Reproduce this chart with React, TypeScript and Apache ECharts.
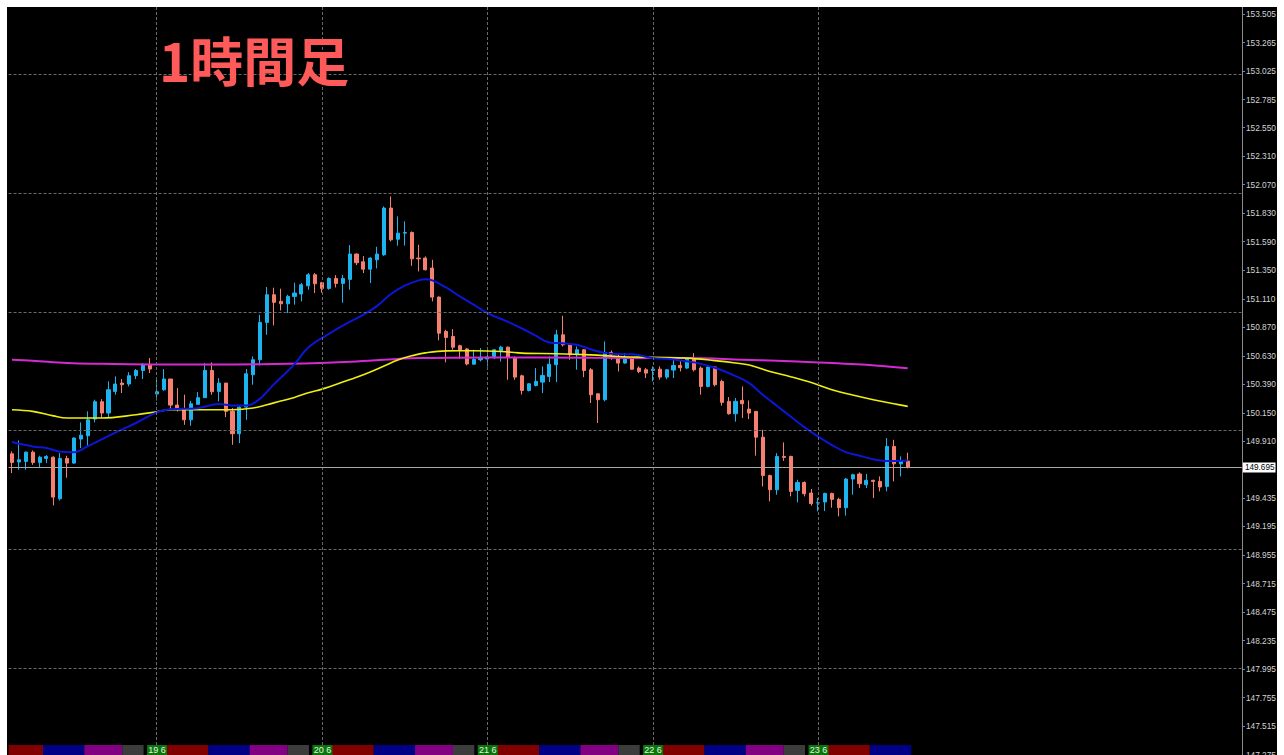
import React, { useEffect, useRef } from "react";
import * as echarts from "echarts";

// ---- data ----
const FIRST_DAY = 18;
const FIRST_HOUR = 3;
const N_CAT = 179;

const OPEN = [
  149.806, 149.737, 149.742, 149.820, 149.734, 149.767, 149.778, 149.428, 149.767, 149.728,
  149.930, 149.958, 150.098, 150.244, 150.149, 150.331, 150.401, 150.393, 150.463, 150.507,
  150.558, 150.309, 150.345, 150.435, 150.216, 150.182, 150.092, 150.222, 150.278, 150.507,
  150.331, 150.401, 150.163, 149.975, 150.199, 150.471, 150.597, 150.911, 151.144, 151.088,
  151.068, 151.130, 151.150, 151.219, 151.312, 151.245, 151.197, 151.281, 151.239, 151.273,
  151.486, 151.421, 151.359, 151.438, 151.480, 151.873, 151.611, 151.662, 151.668, 151.452,
  151.452, 151.368, 151.124, 150.835, 150.793, 150.715, 150.688, 150.560, 150.597, 150.603,
  150.625, 150.667, 150.703, 150.611, 150.462, 150.339, 150.381, 150.409, 150.457, 150.555,
  150.807, 150.723, 150.639, 150.681, 150.513, 150.311, 150.261, 150.659, 150.611, 150.569,
  150.603, 150.527, 150.513, 150.507, 150.518, 150.451, 150.510, 150.549, 150.527, 150.603,
  150.527, 150.373, 150.536, 150.415, 150.247, 150.143, 150.255, 150.182, 150.163, 149.946,
  149.624, 149.504, 149.784, 149.784, 149.498, 149.565, 149.476, 149.392, 149.401, 149.473,
  149.423, 149.353, 149.594, 149.636, 149.546, 149.583, 149.574, 149.532, 149.868, 149.722,
  149.745,
];
const CLOSE = [
  149.734, 149.756, 149.820, 149.734, 149.778, 149.784, 149.442, 149.767, 149.728, 149.938,
  149.963, 150.092, 150.244, 150.149, 150.345, 150.393, 150.387, 150.463, 150.507, 150.555,
  150.519, 150.328, 150.435, 150.216, 150.182, 150.092, 150.227, 150.278, 150.507, 150.328,
  150.401, 150.163, 149.975, 150.199, 150.479, 150.597, 150.911, 151.144, 151.080, 151.068,
  151.130, 151.158, 151.228, 151.312, 151.236, 151.197, 151.281, 151.239, 151.281, 151.486,
  151.413, 151.359, 151.452, 151.486, 151.873, 151.606, 151.662, 151.668, 151.446, 151.446,
  151.354, 151.124, 150.821, 150.785, 150.703, 150.680, 150.562, 150.600, 150.617, 150.620,
  150.681, 150.703, 150.620, 150.451, 150.339, 150.395, 150.415, 150.465, 150.560, 150.807,
  150.723, 150.639, 150.681, 150.507, 150.303, 150.261, 150.659, 150.639, 150.569, 150.603,
  150.518, 150.499, 150.485, 150.518, 150.451, 150.513, 150.549, 150.530, 150.603, 150.513,
  150.373, 150.536, 150.387, 150.239, 150.143, 150.247, 150.227, 150.149, 149.946, 149.624,
  149.504, 149.784, 149.776, 149.490, 149.565, 149.470, 149.387, 149.395, 149.473, 149.423,
  149.353, 149.594, 149.630, 149.555, 149.583, 149.574, 149.527, 149.868, 149.722, 149.747,
  149.695,
];
const LOW = [
  149.644, 149.672, 149.672, 149.714, 149.686, 149.728, 149.372, 149.414, 149.605, 149.722,
  149.854, 149.862, 150.070, 150.107, 150.115, 150.303, 150.317, 150.373, 150.435, 150.435,
  150.485, 150.255, 150.336, 150.177, 150.163, 150.050, 150.042, 150.222, 150.278, 150.303,
  150.247, 150.115, 149.882, 149.896, 150.092, 150.387, 150.550, 150.807, 150.886, 151.012,
  150.990, 151.060, 151.088, 151.186, 151.158, 151.161, 151.186, 151.205, 151.077, 151.186,
  151.393, 151.326, 151.242, 151.365, 151.471, 151.592, 151.556, 151.558, 151.387, 151.340,
  151.348, 151.088, 150.760, 150.575, 150.681, 150.605, 150.550, 150.555, 150.583, 150.541,
  150.603, 150.583, 150.429, 150.429, 150.305, 150.331, 150.373, 150.317, 150.409, 150.409,
  150.709, 150.597, 150.513, 150.451, 150.233, 150.065, 150.247, 150.597, 150.499, 150.563,
  150.513, 150.485, 150.443, 150.415, 150.429, 150.434, 150.443, 150.499, 150.518, 150.499,
  150.303, 150.365, 150.373, 150.211, 150.135, 150.076, 150.107, 150.098, 149.790, 149.532,
  149.406, 149.462, 149.746, 149.448, 149.398, 149.448, 149.370, 149.322, 149.325, 149.353,
  149.280, 149.286, 149.462, 149.518, 149.518, 149.434, 149.490, 149.490, 149.574, 149.616,
  149.683,
];
const HIGH = [
  149.826, 149.918, 149.826, 149.834, 149.790, 149.795, 149.784, 149.812, 149.790, 149.946,
  150.070, 150.163, 150.261, 150.266, 150.415, 150.457, 150.435, 150.493, 150.519, 150.569,
  150.611, 150.443, 150.519, 150.435, 150.359, 150.303, 150.252, 150.325, 150.569, 150.575,
  150.443, 150.401, 150.191, 150.205, 150.519, 150.625, 150.976, 151.209, 151.203, 151.195,
  151.144, 151.245, 151.242, 151.326, 151.326, 151.253, 151.290, 151.309, 151.309, 151.561,
  151.491, 151.469, 151.460, 151.547, 151.887, 151.971, 151.803, 151.761, 151.676, 151.564,
  151.466, 151.438, 151.130, 150.849, 150.855, 150.723, 150.695, 150.681, 150.695, 150.695,
  150.687, 150.715, 150.709, 150.625, 150.471, 150.401, 150.527, 150.541, 150.625, 150.849,
  150.967, 150.737, 150.709, 150.687, 150.527, 150.311, 150.751, 150.675, 150.639, 150.653,
  150.617, 150.541, 150.527, 150.541, 150.541, 150.518, 150.597, 150.585, 150.611, 150.653,
  150.541, 150.541, 150.541, 150.429, 150.283, 150.275, 150.373, 150.255, 150.163, 150.008,
  149.630, 149.812, 149.902, 149.790, 149.588, 149.574, 149.510, 149.434, 149.479, 149.479,
  149.437, 149.602, 149.638, 149.650, 149.636, 149.588, 149.616, 149.938, 149.924, 149.784,
  149.815,
];

// moving averages: [candle index, price]
const MA_BLUE = [
  [0, 149.905], [3, 149.868], [5, 149.855], [7, 149.824], [9, 149.820], [11, 149.870],
  [13, 149.928], [15, 149.985], [18, 150.065], [21, 150.155], [23, 150.180], [27, 150.190],
  [30, 150.225], [32, 150.212], [34, 150.212], [36, 150.270], [38, 150.390], [41, 150.560],
  [43, 150.700], [46, 150.815], [49, 150.915], [51, 150.975], [53, 151.050], [55, 151.150],
  [57, 151.220], [59, 151.265], [60, 151.275], [61, 151.265], [63, 151.205], [65, 151.130],
  [67, 151.060], [69, 150.990], [72, 150.915], [74, 150.860], [76, 150.800], [78, 150.742],
  [80, 150.735], [82, 150.723], [84, 150.685], [86, 150.655], [88, 150.645], [90, 150.643],
  [93, 150.612], [96, 150.600], [99, 150.575], [102, 150.530], [105, 150.460], [107, 150.400],
  [109, 150.300], [111, 150.210], [113, 150.120], [115, 150.030], [117, 149.950], [119, 149.880],
  [121, 149.820], [123, 149.790], [125, 149.760], [127, 149.745], [130, 149.750],
];
const MA_YELLOW = [
  [0, 150.177], [3, 150.163], [6, 150.125], [8, 150.107], [13, 150.107], [18, 150.135],
  [21, 150.160], [23, 150.177], [32, 150.177], [35, 150.191], [37, 150.219], [39, 150.250],
  [41, 150.280], [43, 150.320], [45, 150.350], [48, 150.410], [50, 150.450], [52, 150.495],
  [54, 150.545], [56, 150.595], [58, 150.630], [60, 150.655], [63, 150.672], [67, 150.673],
  [71, 150.667], [74, 150.653], [79, 150.648], [84, 150.638], [88, 150.625], [93, 150.617],
  [98, 150.611], [102, 150.590], [105, 150.570], [107, 150.553], [110, 150.499], [113, 150.455],
  [116, 150.405], [119, 150.345], [122, 150.300], [125, 150.261], [128, 150.227], [130, 150.205],
];
const MA_MAGENTA = [
  [0, 150.597], [3, 150.589], [8, 150.569], [13, 150.563], [22, 150.558], [32, 150.558],
  [40, 150.563], [50, 150.583], [59, 150.611], [69, 150.617], [84, 150.613], [98, 150.611],
  [106, 150.598], [114, 150.583], [119, 150.569], [124, 150.555], [130, 150.525],
];

const Y_LABELS = [
  153.505, 153.265, 153.025, 152.785, 152.55, 152.31, 152.07, 151.83, 151.59, 151.35,
  151.11, 150.87, 150.63, 150.39, 150.15, 149.91, 149.435, 149.195, 148.955, 148.715,
  148.475, 148.235, 147.995, 147.755, 147.515, 147.275,
];
const GRID_LEVELS = [148, 149, 150, 151, 152, 153];
const CURRENT_PRICE = 149.695;
const Y_MIN = 147.2729;
const Y_MAX = 153.5639;

const SEP_DAYS = [19, 20, 21, 22, 23];
const DAY_LABELS = ["19 6", "20 6", "21 6", "22 6", "23 6"];
const SESSION_DAYS = [18, 19, 20, 21, 22, 23];
const SESSIONS = [
  { from: 1.5, to: 8, color: "#800000" },
  { from: 8, to: 14, color: "#000085" },
  { from: 14, to: 19.5, color: "#820082" },
  { from: 19.5, to: 22.6, color: "#3c3c3c" },
];
const LABEL_BOX = { from: -1.4, to: 1.5, color: "#0a760a" };

// ---- derived ----
const dayStartIndex = (d: number) => (d - FIRST_DAY) * 24 - FIRST_HOUR;
const LAST_INDEX = OPEN.length - 1;

const categories: string[] = [];
for (let i = 0; i < N_CAT; i++) {
  const t = FIRST_HOUR + i;
  const d = FIRST_DAY + Math.floor(t / 24);
  const h = t % 24;
  categories.push(`${d} ${String(h).padStart(2, "0")}:00`);
}

const candleData = OPEN.map((o, i) => [o, CLOSE[i], LOW[i], HIGH[i]]);

type Seg = { s: number; e: number; color: string; label?: string };
const SEGMENTS: Seg[] = [];
const clipLo = -0.5;
const clipHi = LAST_INDEX + 0.5;
SESSION_DAYS.forEach((d) => {
  SESSIONS.forEach((ss) => {
    let s = dayStartIndex(d) + ss.from - 0.5;
    let e = dayStartIndex(d) + ss.to - 0.5;
    s = Math.max(s, clipLo);
    e = Math.min(e, clipHi);
    if (e > s) SEGMENTS.push({ s, e, color: ss.color });
  });
});
SEP_DAYS.forEach((d, k) => {
  let s = dayStartIndex(d) + LABEL_BOX.from;
  let e = dayStartIndex(d) + LABEL_BOX.to;
  s = Math.max(s, clipLo);
  e = Math.min(e, clipHi);
  if (e > s) SEGMENTS.push({ s, e, color: LABEL_BOX.color, label: DAY_LABELS[k] });
});

const BULL = "#1db3ee";
const BEAR = "#f5806f";
const GRID_COLOR = "#6a6a6a";

export default function App() {
  const ref = useRef<HTMLDivElement>(null);
  useEffect(() => {
    if (!ref.current) return;
    const chart = echarts.init(ref.current, null, { renderer: "svg" });
    const option: any = {
      animation: false,
      backgroundColor: "#000000",
      grid: {
        left: 1.55,
        right: 35.1,
        top: 0,
        bottom: 0,
        containLabel: false,
        outerBoundsMode: "none",
      },
      xAxis: {
        type: "category",
        data: categories,
        boundaryGap: true,
        axisLine: { show: false },
        axisTick: { show: false },
        axisLabel: { show: false },
        splitLine: { show: false },
      },
      yAxis: {
        type: "value",
        position: "right",
        min: Y_MIN,
        max: Y_MAX,
        scale: true,
        axisLine: { show: true, lineStyle: { color: "#8a8a8a", width: 1 } },
        axisTick: {
          show: true,
          length: 3,
          customValues: Y_LABELS,
          lineStyle: { color: "#8a8a8a" },
        },
        axisLabel: {
          show: true,
          customValues: Y_LABELS,
          margin: 4,
          color: "#d4d4d4",
          fontSize: 8.3,
          fontFamily: "Liberation Sans",
          formatter: (v: number) => v.toFixed(3),
        },
        splitLine: { show: false },
      },
      graphic: [
        {
          type: "text",
          left: 152,
          top: 25,
          z: 100,
          style: {
            text: "1時間足",
            fill: "#ff5a5a",
            font: "bold 53px 'Noto Sans CJK JP'",
          },
        },
      ],
      series: [
        {
          type: "line",
          name: "grid",
          data: [],
          z: 1,
          silent: true,
          markLine: {
            silent: true,
            symbol: "none",
            animation: false,
            label: { show: false },
            lineStyle: { color: GRID_COLOR, type: [3, 2], width: 1 },
            emphasis: { disabled: true },
            data: [
              ...GRID_LEVELS.map((v) => ({ yAxis: v })),
              ...SEP_DAYS.map((d) => ({ xAxis: dayStartIndex(d) })),
            ],
          },
        },
        {
          type: "candlestick",
          name: "USDJPY H1",
          data: candleData,
          z: 2,
          barWidth: 3.6,
          itemStyle: {
            color: BULL,
            color0: BEAR,
            borderColor: BULL,
            borderColor0: BEAR,
            borderWidth: 1,
          },
        },
        {
          type: "line",
          name: "MA200",
          data: MA_MAGENTA,
          z: 3,
          smooth: 0.4,
          symbol: "none",
          lineStyle: { color: "#d42ad4", width: 2 },
        },
        {
          type: "line",
          name: "MA75",
          data: MA_YELLOW,
          z: 3,
          smooth: 0.4,
          symbol: "none",
          lineStyle: { color: "#eeee10", width: 1.6 },
        },
        {
          type: "line",
          name: "MA20",
          data: MA_BLUE,
          z: 3,
          smooth: 0.4,
          symbol: "none",
          lineStyle: { color: "#0b16d6", width: 2 },
        },
        {
          type: "line",
          name: "price",
          data: [],
          z: 4,
          markLine: {
            silent: true,
            symbol: "none",
            animation: false,
            lineStyle: { color: "#a8a8a8", type: "solid", width: 1 },
            label: {
              show: true,
              position: "end",
              distance: 1,
              formatter: CURRENT_PRICE.toFixed(3),
              backgroundColor: "#ffffff",
              color: "#000000",
              fontSize: 8.2,
              fontFamily: "Liberation Sans",
              padding: [1, 1, 1, 2],
            },
            data: [{ yAxis: CURRENT_PRICE }],
          },
        },
        {
          type: "custom",
          name: "sessions",
          z: 5,
          clip: false,
          silent: true,
          data: SEGMENTS.map((_, k) => [k, Y_MIN]),
          encode: { x: 0, y: 1 },
          renderItem: (params: any, api: any) => {
            const seg = SEGMENTS[params.dataIndex];
            const c0 = api.coord([0, Y_MIN]);
            const band = api.size([1, 0])[0];
            const cs = params.coordSys;
            const yb = cs.y + cs.height;
            const x0 = c0[0] + seg.s * band;
            const x1 = c0[0] + seg.e * band;
            const h = 10;
            const children: any[] = [
              {
                type: "rect",
                shape: { x: x0, y: yb - h, width: x1 - x0, height: h },
                style: { fill: seg.color },
              },
            ];
            if (seg.label) {
              children.push({
                type: "text",
                style: {
                  x: (x0 + x1) / 2,
                  y: yb - h / 2,
                  text: seg.label,
                  fill: "#e6f0e6",
                  fontSize: 9,
                  fontFamily: "Liberation Sans",
                  align: "center",
                  verticalAlign: "middle",
                },
              });
            }
            return { type: "group", children };
          },
        },
      ],
    };
    chart.setOption(option);
    return () => chart.dispose();
  }, []);
  return (
    <div
      ref={ref}
      style={{ position: "fixed", left: 7, top: 7, width: 1270, height: 748, background: "#000" }}
    />
  );
}
